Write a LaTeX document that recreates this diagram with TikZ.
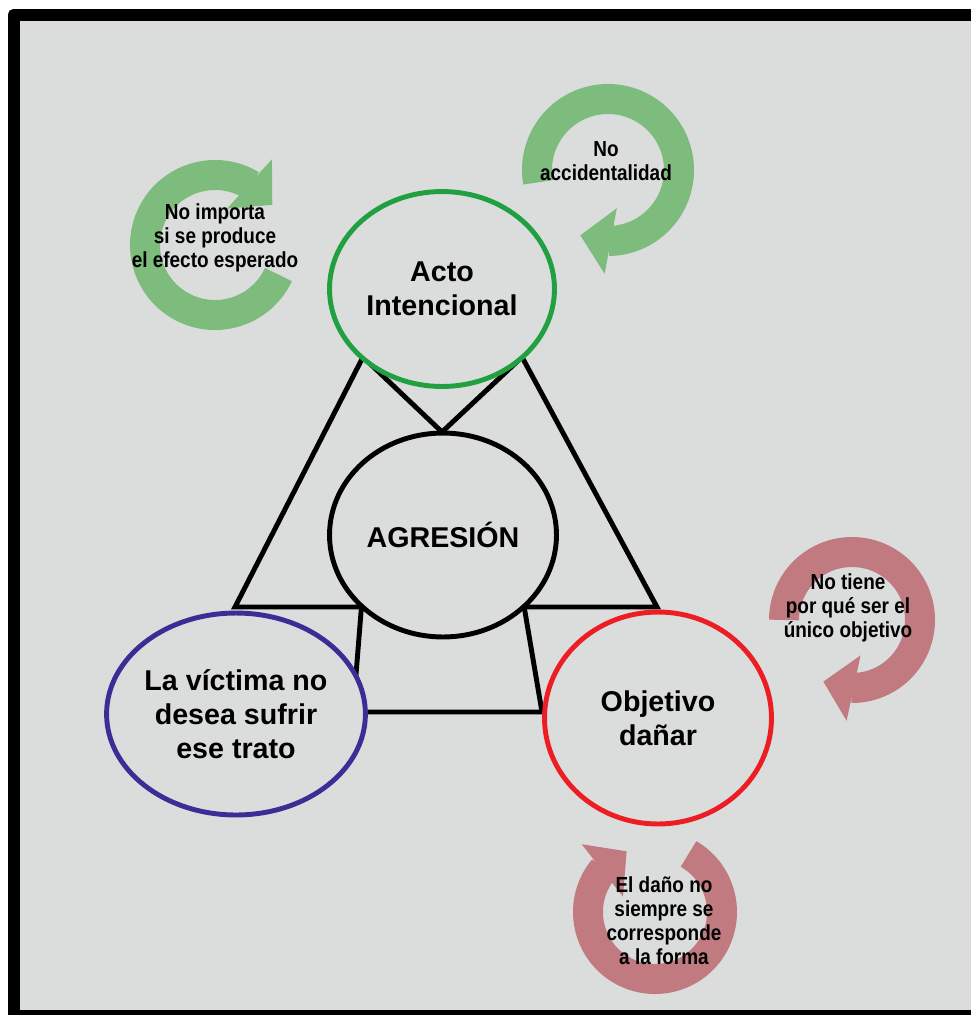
\documentclass[tikz,border=0pt]{standalone}
\usepackage{fontspec}
\setmainfont{Liberation Sans}
\newfontfamily\estrecha[FakeStretch=0.87]{Liberation Sans}
\usetikzlibrary{arrows.meta,bending,shapes.geometric}
\definecolor{fondo}{RGB}{219,221,220}
\definecolor{verdeA}{RGB}{126,188,126}
\definecolor{rojoA}{RGB}{192,122,128}
\definecolor{verde}{RGB}{32,160,64}
\definecolor{azul}{RGB}{56,46,150}
\definecolor{rojo}{RGB}{236,30,36}

\begin{document}
\begin{tikzpicture}[x=0.02cm,y=-0.02cm]
    \tikzstyle{circulo}=[ellipse,draw,line width=2.8pt,fill=fondo,align=center,inner sep=0pt,font=\fontsize{16.3}{19.5}\selectfont\bfseries]
    \tikzstyle{lado}=[line width=2.8pt,line join=miter]
    \tikzstyle{giro}=[line width=0.6cm,-{Triangle[length=0.62cm,width=1.3cm]}]
    \tikzstyle{nota}=[align=center,inner sep=0pt,font=\estrecha\fontsize{12.4}{13.6}\selectfont\bfseries]
    \useasboundingbox (0,0) rectangle (971,1015);
    \fill[white] (0,0) rectangle (971,1015);
    \clip (0,0) rectangle (971,1015);
    \fill[black,rounded corners=3pt] (8,9) rectangle (1000,1040);
    \fill[fondo] (20,21) rectangle (990,1010);

    \coordinate (ai) at (363,357);
    \coordinate (ad) at (522,357);
    \coordinate (v) at (442,432);
    \coordinate (bi) at (235,607);
    \coordinate (bd) at (657,607);
    \coordinate (ti) at (362,600);
    \coordinate (td) at (523,600);
    \coordinate (tbi) at (353,712);
    \coordinate (tbd) at (542,712);
    \draw[lado] (ai) -- (bi) -- (bd) -- (ad);
    \draw[lado] (ai) -- (v) -- (ad);
    \draw[lado] (ti) -- (tbi) -- (tbd) -- (td);

    \node[circulo,draw=verde,minimum width=4.5cm,minimum height=3.9cm] (acto) at (442,289) {Acto\\Intencional};
    \node[circulo,draw=black,minimum width=4.54cm,minimum height=4.08cm] (agresion) at (443,535) {AGRESIÓN};
    \node[circulo,draw=azul,minimum width=4.56cm,minimum height=4.04cm] (victima) at (236,714) {La víctima no\\desea sufrir\\ese trato};
    \node[circulo,draw=rojo,minimum width=4.54cm,minimum height=4.24cm] (objetivo) at (658,718) {Objetivo\\dañar};

    \draw[giro,verdeA] (215,245) ++(25:70) arc[start angle=25,end angle=325,radius=70];
    \draw[giro,verdeA] (608,170) ++(170:71) arc[start angle=170,end angle=473,radius=71];
    \draw[giro,rojoA] (852,620) ++(180:68) arc[start angle=180,end angle=475,radius=68];
    \draw[giro,rojoA] (655,912) ++(300:67) arc[start angle=300,end angle=605,radius=67];

    \node[nota] (importa) at (215,238) {No importa\\si se produce\\el efecto esperado};
    \node[nota] (accid) at (606,161) {No\\accidentalidad};
    \node[nota] (unico) at (848,608) {No tiene\\por qué ser el\\único objetivo};
    \node[nota] (forma) at (664,921) {El daño no\\siempre se\\corresponde\\a la forma};
\end{tikzpicture}
\end{document}
